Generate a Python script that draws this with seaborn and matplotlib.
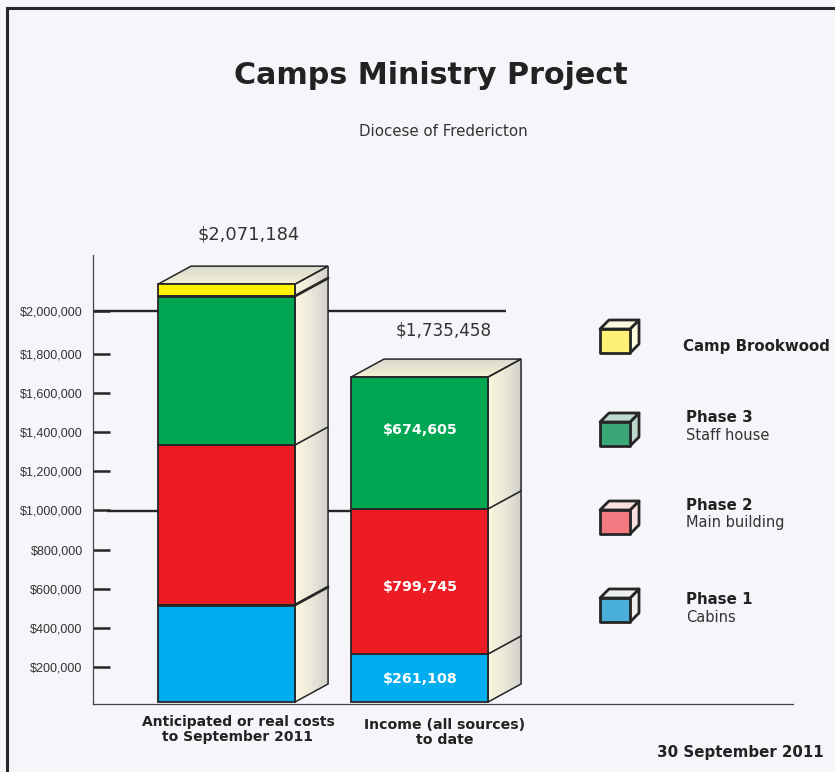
import numpy as np
import matplotlib
matplotlib.use("Agg")
import matplotlib.pyplot as plt
from matplotlib.colors import LinearSegmentedColormap
from matplotlib.patches import Polygon
import seaborn as sns

# Data (drawn heights, printed labels kept apart)
groups = ["Anticipated or real costs\nto September 2011", "Income (all sources)\nto date"]
series = ["Phase 1", "Phase 2", "Phase 3", "Camp Brookwood"]
costs = [496000, 818000, 761000, 61000]
income = [245000, 742000, 674000, 0]
bar_base = 21000
colors = ["#00aeef", "#ed1c24", "#00a651", "#fff200"]
totals = ["$2,071,184", "$1,735,458"]
income_labels = ["$261,108", "$799,745", "$674,605"]

tick_values = [200000, 400000, 600000, 800000, 1000000, 1200000, 1400000, 1600000, 1800000, 2020000]
tick_labels = ["$200,000", "$400,000", "$600,000", "$800,000", "$1,000,000",
               "$1,200,000", "$1,400,000", "$1,600,000", "$1,800,000", "$2,000,000"]
grid_values = [997000, 2020000]

legend_main = ["Phase 1", "Phase 2", "Phase 3", "Camp Brookwood"]
legend_sub = ["Cabins", "Main building", "Staff house", ""]
legend_front = ["#4aaedb", "#f27a80", "#3aa776", "#fff176"]
legend_side = ["#eef0f0", "#fbe0e0", "#bcd9cc", "#fdfbe0"]

bg = "#f5f5fa"
dark = "#262626"
text_col = "#333333"

sns.set_style("white")
plt.rcParams["font.family"] = "DejaVu Sans"

fig = plt.figure(figsize=(8.35, 7.72), dpi=100, facecolor=bg)
ax = fig.add_axes([93 / 835, (772 - 704) / 772, 700 / 835, (704 - 255) / 772], facecolor=bg)

xlim = (-0.692, 2.935)
ylim = (10700, 2306000)
bar_w = 0.71
depth_x = 33 / 193
depth_y = 92000

side_cmap = LinearSegmentedColormap.from_list("side", ["#fdf8e0", "#ebe8d9", "#d2d0cc"])
top_cmap = LinearSegmentedColormap.from_list("top", ["#f6f1d4", "#d9d8cd"])


def shaded(poly, cmap, horizontal):
    # gradient clipped to the face outline
    xs, ys = zip(*poly)
    grad = np.linspace(0, 1, 64)
    grad = grad.reshape(1, -1) if horizontal else grad.reshape(-1, 1)
    im = ax.imshow(grad, cmap=cmap, extent=(min(xs), max(xs), min(ys), max(ys)),
                   origin="lower", aspect="auto", zorder=2)
    patch = Polygon(poly, closed=True, facecolor="none", edgecolor=dark, lw=1.1, zorder=2.5)
    ax.add_patch(patch)
    im.set_clip_path(patch)


# reference lines go behind the bars
ax.hlines(grid_values, [-0.619, -0.692], 1.448, color=dark, lw=1.7, zorder=1)

# 3D side and top of each column
for g, vals in enumerate([costs, income]):
    right = g + bar_w / 2
    left = g - bar_w / 2
    tops = bar_base + np.cumsum(vals)
    top = tops[-1]
    shaded([(right, bar_base), (right + depth_x, bar_base + depth_y),
            (right + depth_x, top + depth_y), (right, top)], side_cmap, True)
    shaded([(left, top), (left + depth_x, top + depth_y),
            (right + depth_x, top + depth_y), (right, top)], top_cmap, False)
    for t, v in zip(tops[:-1], vals[1:]):
        if v > 0:
            thick = 2.0 if t in (tops[0], tops[2]) and g == 0 else 1.2
            ax.plot([right, right + depth_x], [t, t + depth_y], color=dark, lw=thick, zorder=2.6)

# stacked front faces
for g, (name, vals) in enumerate(zip(groups, [costs, income])):
    bottom = bar_base
    for v, c in zip(vals, colors):
        if v > 0:
            sns.barplot(x=[name], y=[v], order=groups, bottom=bottom, color=c, saturation=1,
                        width=bar_w, edgecolor=dark, linewidth=1.3, zorder=3, ax=ax)
        bottom += v

# heavier joins on the costs column
cost_tops = bar_base + np.cumsum(costs)
ax.hlines([cost_tops[0], cost_tops[2]], -bar_w / 2, bar_w / 2, color=dark, lw=2.0, zorder=4)

ax.set_xlim(xlim)
ax.set_ylim(ylim)
ax.set_xlabel("")
ax.set_ylabel("")
ax.set_xticks([])
ax.set_yticks(tick_values)
ax.set_yticklabels(tick_labels, family="Liberation Sans", fontsize=9, color=text_col)
ax.tick_params(axis="y", direction="in", length=12.2, width=1.8, color=dark, pad=7.4, left=True)
sns.despine(ax=ax)
for s in ["left", "bottom"]:
    ax.spines[s].set_color("#444444")
    ax.spines[s].set_linewidth(0.9)

# overlay in picture pixels for frame, titles and legend
ov = fig.add_axes([0, 0, 1, 1], facecolor="none")
ov.set_xlim(0, 835)
ov.set_ylim(772, 0)
ov.axis("off")
ov.plot([7, 7, 835], [772, 8, 8], color=dark, lw=2.2, solid_joinstyle="miter")

ov.text(431, 76, "Camps Ministry Project", ha="center", va="center",
        fontsize=21.7, fontweight="bold", color="#222222")
ov.text(443, 131, "Diocese of Fredericton", ha="center", va="center", fontsize=10.8, color=text_col)

ov.text(249, 234, totals[0], ha="center", va="center", fontsize=12.9, color=text_col)
ov.text(444, 331, totals[1], ha="center", va="center", fontsize=12.2, color=text_col)

for lab, yy in zip(income_labels, [679, 587, 430]):
    ov.text(420, yy, lab, ha="center", va="center", fontsize=10.3, fontweight="bold", color="white")

ov.text(238, 729.5, groups[0], ha="center", va="center", fontsize=10, fontweight="bold",
        color="#222222", linespacing=1.05)
ov.text(444.5, 732.5, groups[1], ha="center", va="center", fontsize=10.2, fontweight="bold",
        color="#222222", linespacing=1.05)
ov.text(824, 752, "30 September 2011", ha="right", va="center", fontsize=10.8,
        fontweight="bold", color="#222222")

# legend cubes
cube_top = [598, 510, 422, 329]
main_y = [600, 506, 418, 346]
sub_y = [617, 522, 435, 0]
main_x = [686, 686, 686, 683]
for i in range(4):
    x0, x1 = 600, 630
    y0, y1 = cube_top[i], cube_top[i] + 24
    dx, dy = 9, 9
    ov.add_patch(Polygon([(x1, y0), (x1 + dx, y0 - dy), (x1 + dx, y1 - dy), (x1, y1)],
                         facecolor=legend_side[i], edgecolor=dark, lw=2.0, joinstyle="round"))
    ov.add_patch(Polygon([(x0, y0), (x0 + dx, y0 - dy), (x1 + dx, y0 - dy), (x1, y0)],
                         facecolor=legend_side[i], edgecolor=dark, lw=2.0, joinstyle="round"))
    ov.add_patch(Polygon([(x0, y0), (x1, y0), (x1, y1), (x0, y1)],
                         facecolor=legend_front[i], edgecolor=dark, lw=2.0, joinstyle="round"))
    ov.text(main_x[i], main_y[i], legend_main[i], ha="left", va="center", fontsize=10.8,
            fontweight="bold", color="#222222")
    if legend_sub[i]:
        ov.text(686, sub_y[i], legend_sub[i], ha="left", va="center", fontsize=10.5, color=text_col)

fig.savefig("out.png", dpi=100, facecolor=bg)
